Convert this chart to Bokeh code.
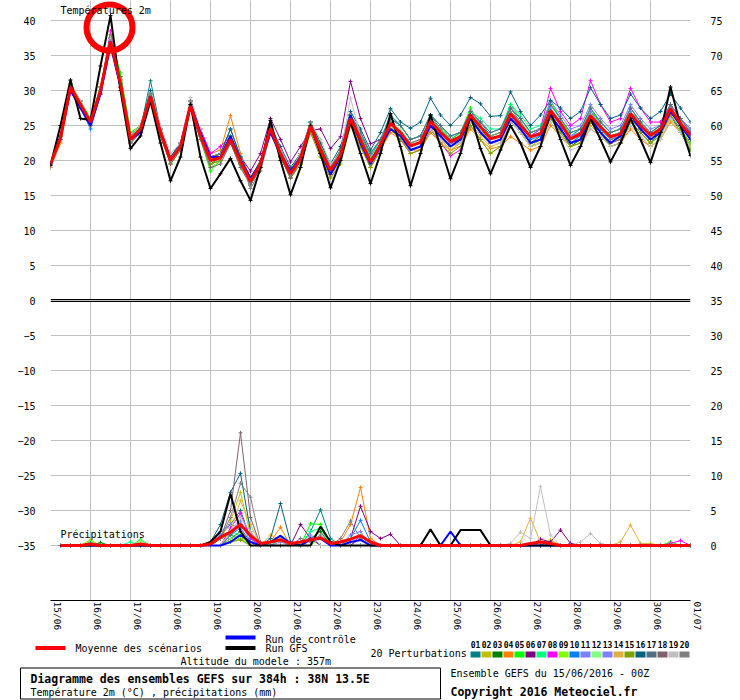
import numpy as np
from bokeh.plotting import figure
from bokeh.models import Range1d, LinearAxis, FixedTicker, Span, Label, Grid
from bokeh.layouts import column
from bokeh.embed import file_html
from bokeh.resources import INLINE
from bokeh.core.properties import value

FONT = "DejaVu Sans Mono"

DATES = ["15/06", "16/06", "17/06", "18/06", "19/06", "20/06", "21/06", "22/06", "23/06",
         "24/06", "25/06", "26/06", "27/06", "28/06", "29/06", "30/06", "01/07"]
STEPS_PER_DAY = 4
N_STEPS = 65

# ---- Temperature 2m (deg C), 6-hourly from 15/06 00Z ----
MEAN_T = [19.5, 23.2, 30.5, 28.0, 25.5, 30.0, 37.0, 31.0, 23.0, 24.5,
          29.2, 24.0, 20.0, 22.0, 27.8, 23.5, 20.0, 20.4, 23.0, 19.8,
          17.0, 19.5, 24.6, 21.0, 18.1, 20.3, 24.9, 21.5, 18.6, 20.8,
          26.0, 23.0, 19.8, 22.3, 25.3, 24.0, 22.1, 22.6, 25.6, 24.0,
          22.7, 23.4, 26.5, 24.8, 23.1, 23.5, 26.7, 25.0, 23.4, 23.8,
          27.1, 25.3, 23.1, 23.8, 26.4, 24.8, 23.4, 23.8, 26.7, 25.0,
          23.6, 24.5, 27.4, 25.3, 23.6]
GFS_T = [19.3, 25.0, 31.5, 26.0, 25.8, 33.5, 40.7, 30.0, 21.7, 23.5,
         28.5, 22.5, 17.1, 20.5, 28.0, 20.5, 16.0, 18.1, 20.3, 17.1,
         14.3, 19.0, 25.7, 20.0, 15.1, 19.0, 25.0, 21.0, 16.1, 20.0,
         25.5, 21.0, 16.7, 21.0, 26.7, 22.0, 16.4, 21.0, 26.5, 22.0,
         17.4, 21.0, 26.5, 21.7, 18.1, 21.5, 25.0, 22.5, 19.0, 22.0,
         27.0, 23.0, 19.3, 22.0, 26.0, 23.0, 19.8, 22.5, 26.0, 23.0,
         19.7, 24.0, 30.5, 25.0, 20.7]
CTRL_T = [19.5, 23.5, 30.0, 27.5, 25.0, 29.5, 36.5, 30.5, 23.0, 24.0,
          29.0, 24.0, 20.0, 22.0, 28.0, 24.0, 20.5, 20.5, 23.5, 20.0,
          17.5, 19.5, 24.0, 21.0, 18.5, 20.5, 25.0, 21.5, 18.0, 20.5,
          26.5, 22.5, 19.5, 22.0, 24.5, 23.5, 21.5, 22.0, 25.0, 23.5,
          22.0, 23.0, 26.0, 24.0, 22.5, 23.0, 26.0, 24.5, 22.5, 23.0,
          26.5, 24.5, 22.5, 23.0, 26.0, 24.0, 22.5, 23.5, 26.5, 24.5,
          23.0, 24.0, 27.0, 25.0, 23.0]
P01_T = [19.5, 23.0, 30.5, 28.0, 25.5, 30.0, 37.0, 31.0, 23.5, 24.5,
         31.4, 24.5, 20.5, 22.0, 28.5, 24.0, 20.0, 21.0, 24.5, 20.5,
         17.0, 19.5, 25.0, 21.5, 18.5, 21.0, 25.5, 22.0, 19.0, 21.5,
         26.5, 24.0, 20.5, 23.0, 26.5, 25.0, 23.0, 23.5, 26.5, 24.5,
         23.0, 24.0, 27.0, 25.5, 23.5, 24.0, 27.5, 25.5, 23.5, 24.5,
         28.0, 26.0, 23.5, 24.5, 27.0, 25.5, 24.0, 24.5, 27.5, 25.5,
         24.0, 25.0, 28.0, 26.0, 24.5]
P02_T = [19.0, 23.0, 31.0, 28.5, 25.0, 30.5, 38.0, 32.0, 24.0, 24.5,
         29.0, 24.5, 20.5, 22.5, 28.0, 24.0, 20.5, 21.0, 22.5, 20.0,
         16.5, 19.0, 24.0, 20.5, 17.5, 19.5, 24.5, 21.0, 18.0, 20.0,
         25.5, 22.0, 19.0, 21.5, 24.5, 23.0, 21.5, 22.0, 24.5, 23.0,
         21.5, 22.5, 25.0, 23.0, 21.0, 22.0, 25.5, 24.0, 22.0, 23.0,
         26.0, 24.0, 22.0, 23.0, 25.5, 24.0, 22.5, 23.0, 25.5, 24.0,
         22.5, 24.0, 26.0, 24.0, 22.0]
P03_T = [19.5, 23.5, 30.5, 28.0, 25.5, 30.5, 37.0, 32.0, 23.5, 24.0,
         29.5, 24.0, 19.5, 21.5, 28.0, 23.5, 19.5, 20.5, 23.5, 19.5,
         16.5, 19.5, 24.5, 21.0, 18.0, 20.5, 25.5, 22.0, 18.5, 21.0,
         26.0, 23.5, 20.0, 22.5, 25.0, 24.0, 22.0, 22.5, 25.5, 24.5,
         22.5, 23.0, 26.0, 24.5, 22.5, 23.0, 26.0, 24.5, 22.5, 23.5,
         26.5, 24.5, 22.0, 23.0, 25.5, 24.0, 22.0, 22.5, 25.5, 24.0,
         22.5, 24.0, 26.5, 24.0, 21.5]
P04_T = [19.0, 22.5, 30.0, 27.5, 25.0, 29.5, 36.5, 30.5, 22.5, 24.5,
         29.0, 23.5, 20.0, 22.0, 27.5, 24.5, 21.0, 21.5, 26.4, 21.0,
         17.5, 19.5, 24.0, 21.0, 18.0, 20.0, 24.5, 21.0, 18.5, 20.5,
         25.5, 22.5, 19.5, 21.5, 24.0, 23.0, 21.5, 21.5, 24.0, 22.5,
         21.5, 22.0, 24.5, 23.0, 21.7, 22.0, 23.4, 22.5, 21.5, 22.0,
         25.0, 23.5, 22.0, 22.5, 24.5, 23.5, 22.0, 22.5, 24.5, 23.0,
         22.0, 23.0, 25.5, 24.0, 22.5]
P05_T = [19.5, 23.0, 30.5, 28.5, 26.0, 30.5, 37.5, 32.5, 24.0, 25.0,
         29.5, 24.0, 19.5, 21.5, 28.0, 23.0, 18.5, 20.0, 23.5, 19.5,
         16.5, 19.5, 25.0, 21.5, 18.5, 21.0, 25.5, 22.5, 19.0, 21.5,
         26.5, 24.0, 21.0, 23.0, 26.0, 25.0, 23.0, 23.5, 26.5, 25.0,
         23.0, 24.0, 27.5, 25.0, 23.5, 24.0, 28.0, 26.0, 24.0, 24.5,
         28.5, 26.0, 23.5, 24.0, 27.5, 25.0, 23.5, 24.0, 27.0, 25.0,
         23.5, 24.0, 26.5, 24.5, 22.5]
P06_T = [19.5, 23.5, 30.0, 28.0, 25.5, 30.0, 36.5, 31.0, 23.0, 24.5,
         29.0, 24.5, 20.5, 22.5, 28.5, 24.0, 20.5, 21.0, 23.0, 20.5,
         18.5, 21.0, 26.0, 23.0, 19.8, 22.0, 24.3, 24.5, 21.7, 23.4,
         31.3, 26.0, 22.4, 23.0, 25.0, 24.0, 22.5, 23.0, 25.5, 24.0,
         22.5, 23.0, 26.0, 24.5, 23.0, 23.5, 26.0, 24.5, 22.5, 23.0,
         26.0, 24.5, 22.5, 23.0, 25.5, 24.0, 22.5, 23.5, 26.0, 24.5,
         23.0, 24.5, 27.0, 25.0, 23.0]
P07_T = [19.5, 23.5, 30.5, 28.0, 25.5, 30.0, 37.0, 31.5, 23.0, 24.5,
         29.5, 24.5, 20.0, 22.5, 28.0, 24.0, 20.0, 20.5, 23.0, 20.0,
         17.0, 19.5, 25.0, 21.5, 18.5, 20.5, 25.5, 22.0, 19.0, 21.5,
         26.5, 23.5, 20.5, 23.0, 26.0, 25.0, 23.0, 23.5, 26.5, 25.0,
         23.5, 24.0, 27.0, 26.0, 24.5, 24.5, 28.0, 26.5, 24.5, 25.0,
         28.0, 26.0, 24.0, 24.5, 27.5, 25.5, 24.0, 24.5, 27.0, 25.5,
         24.0, 25.0, 27.5, 25.5, 24.0]
P08_T = [19.5, 23.0, 30.5, 28.0, 25.5, 30.0, 38.5, 31.0, 23.0, 24.5,
         29.0, 24.0, 20.0, 22.0, 27.5, 24.5, 21.0, 22.0, 23.5, 20.0,
         16.5, 19.0, 24.5, 20.5, 18.0, 20.0, 24.5, 21.0, 18.0, 20.5,
         25.5, 22.5, 19.0, 21.5, 24.5, 23.0, 21.0, 21.5, 24.5, 22.5,
         20.7, 21.5, 25.5, 24.0, 22.5, 23.0, 26.5, 25.0, 23.5, 24.5,
         30.3, 27.0, 25.0, 26.0, 31.4, 28.0, 25.5, 26.0, 30.3, 27.5,
         25.5, 25.5, 28.0, 26.0, 24.0]
P09_T = [19.5, 23.5, 31.0, 28.5, 25.5, 30.5, 37.0, 31.5, 23.5, 24.0,
         29.0, 23.5, 19.5, 21.5, 27.5, 23.0, 19.0, 20.0, 22.5, 19.0,
         16.5, 19.0, 24.0, 20.5, 17.5, 19.5, 24.5, 21.0, 18.0, 20.5,
         25.5, 22.5, 19.5, 22.0, 25.0, 23.5, 21.5, 22.0, 25.0, 23.5,
         22.0, 23.0, 26.0, 24.5, 22.5, 23.0, 26.5, 24.5, 22.5, 23.0,
         26.5, 24.5, 22.5, 23.5, 26.0, 24.5, 23.0, 23.5, 26.5, 24.5,
         23.0, 24.0, 27.0, 25.5, 23.5]
P10_T = [19.5, 23.0, 30.0, 27.5, 24.5, 29.5, 36.5, 30.5, 22.5, 24.0,
         29.5, 24.0, 20.0, 22.0, 27.5, 23.5, 19.5, 20.0, 22.5, 19.5,
         16.5, 19.0, 24.0, 20.5, 17.5, 20.0, 24.5, 21.0, 18.0, 20.5,
         25.5, 22.5, 19.5, 22.0, 25.0, 23.5, 21.5, 22.0, 25.0, 23.5,
         22.0, 23.0, 26.0, 24.0, 22.5, 23.0, 26.0, 24.5, 23.0, 23.5,
         26.5, 24.5, 22.5, 23.5, 26.0, 24.5, 23.0, 23.5, 26.0, 24.5,
         23.0, 24.0, 27.0, 25.0, 23.0]
P11_T = [19.0, 23.0, 30.5, 28.0, 25.0, 30.0, 37.0, 31.0, 23.0, 24.5,
         29.0, 24.0, 20.5, 22.5, 28.0, 24.0, 20.5, 21.0, 23.5, 20.5,
         17.5, 20.0, 25.0, 21.5, 18.5, 20.5, 25.0, 22.0, 19.0, 21.0,
         26.5, 24.0, 21.0, 23.0, 26.0, 25.0, 23.0, 23.5, 26.5, 25.0,
         23.5, 24.0, 27.0, 25.5, 24.0, 24.5, 27.5, 26.0, 24.0, 24.5,
         28.5, 26.5, 24.5, 25.0, 28.0, 26.0, 24.5, 25.0, 28.0, 26.0,
         24.5, 25.0, 28.0, 26.0, 24.5]
P12_T = [19.5, 23.5, 30.5, 28.0, 25.5, 30.0, 37.0, 31.0, 23.5, 25.0,
         29.5, 24.5, 20.0, 22.0, 28.0, 24.0, 20.0, 20.5, 23.5, 20.0,
         17.0, 19.5, 24.5, 21.0, 18.0, 20.0, 24.5, 21.5, 18.5, 20.5,
         26.0, 23.0, 20.0, 22.5, 25.5, 24.5, 22.5, 23.0, 26.0, 24.5,
         23.0, 23.5, 26.5, 25.0, 23.5, 24.0, 27.0, 25.5, 24.0, 24.5,
         27.5, 25.5, 23.5, 24.0, 27.0, 25.0, 23.5, 24.0, 27.0, 25.0,
         23.5, 24.5, 27.5, 25.5, 23.5]
P13_T = [19.5, 23.0, 30.0, 27.5, 25.0, 29.5, 36.5, 30.5, 23.0, 24.0,
         29.0, 24.0, 20.0, 22.0, 27.5, 23.5, 19.5, 20.0, 23.0, 19.5,
         17.0, 19.5, 24.5, 21.0, 18.0, 20.5, 25.0, 21.5, 18.5, 21.0,
         26.5, 23.5, 20.0, 22.5, 25.5, 24.0, 22.0, 22.5, 25.5, 24.0,
         22.5, 23.5, 26.5, 25.0, 23.0, 23.5, 27.0, 25.0, 23.5, 24.0,
         27.5, 25.5, 23.5, 24.0, 27.0, 25.0, 23.5, 24.0, 27.0, 25.0,
         23.5, 24.5, 27.5, 25.5, 23.5]
P14_T = [19.0, 22.5, 30.0, 27.5, 25.0, 29.5, 36.5, 30.5, 22.5, 24.0,
         29.0, 23.5, 19.5, 21.5, 27.5, 23.0, 19.5, 20.0, 23.0, 19.5,
         16.5, 19.0, 24.0, 20.5, 17.5, 19.5, 24.0, 20.5, 17.5, 20.0,
         25.0, 22.0, 19.0, 21.5, 24.5, 23.0, 21.0, 21.5, 24.5, 23.0,
         21.5, 22.5, 25.5, 23.5, 22.0, 22.5, 25.5, 24.0, 22.0, 22.5,
         25.5, 23.5, 22.0, 22.5, 25.0, 23.5, 22.0, 22.5, 25.0, 23.5,
         22.0, 23.0, 26.0, 24.0, 22.0]
P15_T = [19.5, 23.5, 31.0, 28.5, 25.5, 30.5, 37.5, 31.5, 23.5, 24.5,
         29.5, 24.0, 20.0, 22.0, 28.0, 23.5, 19.5, 20.0, 23.0, 19.5,
         16.5, 19.0, 24.5, 20.5, 17.5, 19.5, 24.0, 20.5, 17.5, 19.5,
         25.0, 22.0, 19.0, 21.5, 24.5, 23.0, 21.0, 21.5, 24.5, 22.5,
         21.0, 22.0, 25.0, 23.0, 21.0, 22.0, 25.5, 24.0, 22.0, 22.5,
         26.0, 24.0, 22.0, 22.5, 25.5, 24.0, 22.0, 22.5, 25.5, 24.0,
         22.5, 23.5, 26.5, 24.5, 22.0]
P16_T = [19.5, 23.5, 30.5, 28.5, 25.0, 30.5, 37.5, 31.5, 23.5, 25.0,
         30.0, 24.5, 20.5, 22.5, 28.5, 24.0, 20.5, 21.0, 24.5, 20.5,
         17.5, 20.0, 25.0, 22.0, 19.0, 21.0, 25.5, 22.5, 19.5, 22.0,
         27.0, 24.5, 21.5, 24.0, 27.4, 25.5, 24.6, 25.5, 28.9, 26.5,
         25.0, 26.5, 29.0, 28.1, 26.3, 26.4, 29.8, 27.0, 25.0, 26.5,
         28.6, 27.5, 26.0, 27.0, 30.4, 28.0, 26.0, 26.5, 29.5, 27.5,
         26.0, 27.0, 29.5, 27.5, 25.5]
P17_T = [19.5, 23.5, 30.5, 28.0, 25.5, 30.0, 37.0, 31.0, 23.0, 24.5,
         29.5, 24.0, 20.0, 22.0, 28.0, 24.0, 20.0, 20.5, 23.5, 20.0,
         17.0, 19.5, 25.0, 21.5, 18.5, 21.0, 25.5, 22.0, 19.0, 21.5,
         26.5, 24.0, 21.0, 23.0, 26.0, 25.0, 23.0, 23.5, 26.5, 25.0,
         23.5, 24.0, 27.0, 25.5, 24.0, 24.5, 27.5, 26.0, 24.0, 24.5,
         28.0, 26.0, 24.0, 24.5, 27.5, 25.5, 24.0, 24.5, 27.5, 25.5,
         24.0, 25.0, 28.0, 26.0, 24.0]
P18_T = [19.5, 23.0, 30.0, 27.5, 25.0, 29.5, 36.5, 30.5, 22.5, 24.0,
         28.5, 23.5, 19.5, 21.5, 27.5, 23.0, 19.0, 19.5, 22.5, 19.0,
         16.5, 19.0, 24.0, 20.5, 17.5, 20.0, 24.5, 21.0, 18.0, 20.5,
         25.5, 23.0, 20.0, 22.0, 25.0, 23.5, 21.5, 22.0, 25.0, 23.5,
         22.0, 22.5, 25.5, 24.0, 22.5, 23.0, 26.0, 24.5, 22.5, 23.0,
         26.5, 24.5, 22.5, 23.0, 26.0, 24.0, 22.5, 23.0, 26.0, 24.5,
         23.0, 24.0, 27.0, 25.0, 23.0]
P19_T = [19.5, 23.5, 31.0, 28.5, 25.5, 30.5, 37.5, 31.5, 23.5, 25.0,
         29.5, 25.0, 21.0, 22.5, 29.0, 24.5, 20.0, 20.5, 23.0, 20.0,
         16.0, 18.5, 24.0, 21.5, 18.5, 21.0, 25.5, 23.0, 19.5, 21.0,
         28.9, 23.5, 20.0, 22.0, 25.0, 23.5, 21.5, 22.0, 24.5, 23.0,
         22.0, 22.5, 25.5, 24.0, 22.5, 22.5, 25.5, 24.0, 22.0, 22.5,
         25.5, 23.5, 21.5, 22.0, 24.5, 23.5, 22.0, 22.5, 25.0, 23.5,
         22.0, 23.0, 26.0, 24.0, 22.0]
P20_T = [19.5, 23.5, 30.5, 28.0, 25.5, 30.0, 37.0, 31.0, 23.0, 24.5,
         29.5, 24.0, 20.0, 22.0, 28.5, 24.0, 20.5, 21.0, 23.5, 20.0,
         16.0, 18.5, 24.0, 21.0, 18.0, 20.5, 25.5, 22.0, 18.5, 21.0,
         26.5, 23.5, 20.0, 22.5, 25.5, 24.0, 22.5, 23.0, 26.0, 24.5,
         23.0, 23.5, 26.5, 25.0, 23.5, 24.0, 27.0, 25.5, 23.5, 24.0,
         27.0, 25.0, 23.0, 23.5, 26.5, 25.0, 23.0, 23.5, 26.5, 25.0,
         23.5, 24.5, 27.5, 25.5, 23.5]

# ---- Precipitation (mm per 6h), non-zero steps only {step index: mm} ----
MEAN_P = {4: 0.2, 9: 0.2, 16: 0.2, 17: 1.2, 18: 1.9, 19: 3.0, 20: 1.4, 21: 0.3, 22: 0.5,
          23: 0.8, 24: 0.3, 25: 0.5, 26: 0.8, 27: 1.1, 28: 0.3, 29: 0.5, 30: 0.9, 31: 1.4,
          32: 0.5, 48: 0.3, 49: 0.5, 50: 0.3}
GFS_P = {16: 0.5, 17: 2.0, 18: 7.4, 19: 2.0, 27: 2.7, 28: 0.5, 38: 2.3, 41: 2.2, 42: 2.2, 43: 2.2}
CTRL_P = {18: 0.5, 19: 1.5, 20: 0.5, 22: 0.5, 23: 1.4, 24: 0.3, 26: 0.8, 27: 1.0, 30: 0.5,
          31: 0.8, 40: 2.0}
P01_P = {17: 1.5, 18: 3.0, 19: 5.0, 20: 1.0, 26: 2.0, 27: 5.1, 28: 1.0}
P02_P = {4: 0.8, 17: 1.0, 18: 3.5, 19: 7.6, 20: 1.5, 50: 0.8}
P03_P = {5: 0.4, 18: 1.0, 19: 2.0, 26: 1.0, 27: 2.0}
P04_P = {18: 0.5, 19: 1.0, 22: 0.5, 23: 2.6, 29: 0.5, 30: 3.0, 31: 8.3, 32: 1.0}
P05_P = {4: 0.5, 9: 0.8, 17: 1.0, 18: 1.5, 19: 1.0, 23: 0.8, 26: 3.1, 27: 3.0, 28: 0.5, 62: 0.5}
P06_P = {18: 1.0, 19: 1.5, 25: 3.0, 26: 1.0, 30: 1.0, 31: 5.6, 32: 2.0, 33: 1.0, 34: 1.6,
         49: 0.9, 50: 0.5, 51: 2.2, 52: 0.3}
P07_P = {8: 0.5, 17: 1.0, 18: 2.0, 19: 1.5, 26: 2.0, 27: 2.5}
P08_P = {18: 2.5, 19: 4.6, 20: 1.0, 31: 1.5, 62: 0.3, 63: 0.7}
P09_P = {18: 0.5, 19: 1.0, 27: 1.0}
P10_P = {4: 0.3, 18: 1.5, 19: 2.5, 20: 0.5, 30: 1.0, 31: 3.6, 32: 0.5}
P11_P = {17: 2.0, 18: 3.0, 19: 2.5, 23: 1.0, 26: 1.5, 30: 1.5, 31: 2.0}
P12_P = {9: 0.6, 18: 1.0, 19: 1.5, 30: 1.0, 31: 1.5}
P13_P = {17: 1.5, 18: 2.0, 19: 3.5, 20: 0.5, 23: 0.5}
P14_P = {18: 2.0, 19: 6.4, 20: 3.0, 22: 1.5, 23: 0.8, 47: 0.5, 48: 3.9, 49: 0.5, 57: 0.5,
         58: 2.9, 59: 0.3, 60: 0.3}
P15_P = {18: 0.5, 19: 0.8}
P16_P = {16: 0.5, 17: 3.0, 18: 7.6, 19: 10.3, 20: 2.0, 22: 1.0, 23: 6.0, 24: 0.5}
P17_P = {18: 1.5, 19: 3.0, 20: 1.5, 31: 1.0}
P18_P = {17: 1.0, 18: 5.0, 19: 16.1, 20: 4.0}
P19_P = {18: 2.0, 19: 4.0, 20: 2.0, 46: 0.3, 47: 1.9, 48: 1.0, 49: 8.4, 50: 1.5, 53: 0.5,
         54: 1.7, 55: 0.3}
P20_P = {17: 1.0, 18: 4.0, 19: 8.9, 20: 6.9, 21: 0.5, 25: 1.0, 26: 0.5, 27: 1.5, 29: 1.0,
         30: 3.5, 31: 1.0}

PERT_LABELS = ["01", "02", "03", "04", "05", "06", "07", "08", "09", "10",
               "11", "12", "13", "14", "15", "16", "17", "18", "19", "20"]
PERT_COLORS = ["#008080", "#c0c000", "#008000", "#ff8000", "#00ff00", "#800080", "#00ff80",
               "#ff00ff", "#80ff00", "#0080ff", "#8080ff", "#80ff80", "#8080ff", "#e0b040",
               "#80a000", "#006080", "#507080", "#806070", "#c0c0c0", "#808080"]
PERT_T = [P01_T, P02_T, P03_T, P04_T, P05_T, P06_T, P07_T, P08_T, P09_T, P10_T,
          P11_T, P12_T, P13_T, P14_T, P15_T, P16_T, P17_T, P18_T, P19_T, P20_T]
PERT_P = [P01_P, P02_P, P03_P, P04_P, P05_P, P06_P, P07_P, P08_P, P09_P, P10_P,
          P11_P, P12_P, P13_P, P14_P, P15_P, P16_P, P17_P, P18_P, P19_P, P20_P]

TEMP_TICKS = list(range(-35, 41, 5))
MM_TICKS = list(range(0, 76, 5))
PRECIP_ZERO = -35          # temperature-axis value where 0 mm sits
PX_PER_UNIT = 7.0
Y_LO = -300 / PX_PER_UNIT
Y_HI = 300 / PX_PER_UNIT
BOTTOM_PANEL = 34          # height of the date-label strip under the plot
STRIP_TOP = 600 + BOTTOM_PANEL

t = np.arange(N_STEPS) / STEPS_PER_DAY
tp = t[1:]


def dense(d):
    arr = np.zeros(N_STEPS)
    for k, v in d.items():
        arr[k] = v
    return arr[1:]


p = figure(frame_width=640, frame_height=600,
           x_range=Range1d(0, len(DATES) - 1), y_range=Range1d(Y_LO, Y_HI),
           x_axis_type=None, y_axis_type=None, output_backend="svg",
           toolbar_location=None, title=None,
           min_border_left=50, min_border_right=50, min_border_top=0,
           min_border_bottom=BOTTOM_PANEL,
           background_fill_color="white", border_fill_color="white", outline_line_color=None)
p.frame_align = False
p.extra_y_ranges = {"mm": Range1d(Y_LO - PRECIP_ZERO, Y_HI - PRECIP_ZERO)}

p.add_layout(Grid(dimension=0, ticker=FixedTicker(ticks=list(range(len(DATES)))),
                  grid_line_color="#c0c0c0"))
p.add_layout(Grid(dimension=1, ticker=FixedTicker(ticks=TEMP_TICKS), grid_line_color="#c0c0c0"))


def style_axis(ax, size="10px"):
    ax.major_tick_line_color = None
    ax.minor_tick_line_color = None
    ax.major_tick_out = 0
    ax.major_tick_in = 0
    ax.major_label_text_font = FONT
    ax.major_label_text_font_size = size
    ax.major_label_text_color = "black"


yl = LinearAxis(ticker=FixedTicker(ticks=TEMP_TICKS), axis_line_color=None, major_label_standoff=15)
style_axis(yl)
p.add_layout(yl, "left")
yr = LinearAxis(y_range_name="mm", ticker=FixedTicker(ticks=MM_TICKS), axis_line_color=None,
                major_label_standoff=20)
style_axis(yr)
p.add_layout(yr, "right")
xb = LinearAxis(ticker=FixedTicker(ticks=list(range(len(DATES)))),
                major_label_overrides={i: d + "\n" for i, d in enumerate(DATES)},
                major_label_orientation="vertical", axis_line_color="black",
                major_label_standoff=1)
style_axis(xb, "9.5px")
p.add_layout(xb, "below")

# zero separator (double line)
for off in (1 / PX_PER_UNIT, -1 / PX_PER_UNIT):
    p.add_layout(Span(location=off, dimension="width", line_color="black", line_width=1))

# perturbations
for vals, col in zip(PERT_T, PERT_COLORS):
    p.line(t, vals, line_color=col, line_width=1)
    p.scatter(t, vals, marker="cross", size=4, line_color=col, line_width=1)
for d, col in zip(PERT_P, PERT_COLORS):
    pv = dense(d)
    p.line(tp, pv, line_color=col, line_width=1, y_range_name="mm")
    p.scatter(tp, pv, marker="cross", size=4, line_color=col, line_width=1, y_range_name="mm")

# control, GFS, mean
p.line(t, CTRL_T, line_color="#0000ff", line_width=2)
p.line(tp, dense(CTRL_P), line_color="#0000ff", line_width=2, y_range_name="mm")
p.line(t, GFS_T, line_color="black", line_width=2)
p.scatter(t, GFS_T, marker="cross", size=4, line_color="black")
p.line(tp, dense(GFS_P), line_color="black", line_width=2, y_range_name="mm")
p.line(t, MEAN_T, line_color="#ff0000", line_width=3)
p.line(tp, dense(MEAN_P), line_color="#ff0000", line_width=3, y_range_name="mm")

# ring highlighting the GFS maximum
imax = int(np.argmax(GFS_T))
p.scatter([t[imax] - 0.025], [GFS_T[imax] - 1.7], marker="circle", size=46,
          fill_color=None, line_color="#ff0000", line_width=6)

lab_kw = dict(text_font=FONT, text_font_size="10px", text_color="black")
p.add_layout(Label(x=0.25, y=Y_HI, y_offset=-4, text="Températures 2m", text_baseline="top",
                   **lab_kw))
p.add_layout(Label(x=0.25, y=1.6, y_range_name="mm", text="Précipitations",
                   text_baseline="alphabetic", **lab_kw))
p.add_layout(Label(x=-0.75, y=Y_LO, text="(°C)", text_baseline="top", y_offset=-2, **lab_kw))
p.add_layout(Label(x=16.5, y=Y_LO, text="(mm)", text_baseline="top", y_offset=-2, **lab_kw))

# ---------------- legend / caption strip ----------------
L = figure(frame_width=740, frame_height=700 - STRIP_TOP, x_range=Range1d(0, 740),
           y_range=Range1d(700, STRIP_TOP),
           x_axis_type=None, y_axis_type=None, output_backend="svg", toolbar_location=None,
           title=None, min_border=0, outline_line_color=None,
           background_fill_color="white", border_fill_color="white")
L.frame_align = False

L.segment(x0=[35, 225, 225], y0=[647.5, 637, 647.5], x1=[65, 255, 255], y1=[647.5, 637, 647.5],
          line_color=["#ff0000", "#0000ff", "#000000"], line_width=4)
txt = dict(text_font=value(FONT), text_font_size="10px", text_color="black",
           text_baseline="middle", text_align="left")
L.text(x=[75, 265, 265, 180, 370, 30, 450],
       y=[648, 639, 648, 661, 653, 691.5, 673],
       text=["Moyenne des scénarios", "Run de contrôle", "Run GFS",
             "Altitude du modele : 357m", "20 Perturbations",
             "Température 2m (°C) , précipitations (mm)",
             "Ensemble GEFS du 15/06/2016 - 00Z"], **txt)
bold = dict(txt, text_font_size="11.5px", text_font_style="bold")
L.text(x=[30, 450], y=[678, 691.5],
       text=["Diagramme des ensembles GEFS sur 384h : 38N 13.5E", "Copyright 2016 Meteociel.fr"],
       **bold)
sq_left = [470 + 11 * k for k in range(len(PERT_LABELS))]
L.quad(left=sq_left, right=[s + 10 for s in sq_left], top=[651] * 20, bottom=[657] * 20,
       fill_color=PERT_COLORS, line_color=None)
L.text(x=[s + 5 for s in sq_left], y=[644] * 20, text=PERT_LABELS,
       text_font=value(FONT), text_font_size="8px", text_font_style="bold",
       text_align="center", text_baseline="middle", text_color="black")
L.quad(left=[20], right=[440], top=[667.5], bottom=[698.5], fill_color=None,
       line_color="black", line_width=1)

open("out.html", "w").write(file_html(column(p, L), INLINE))
